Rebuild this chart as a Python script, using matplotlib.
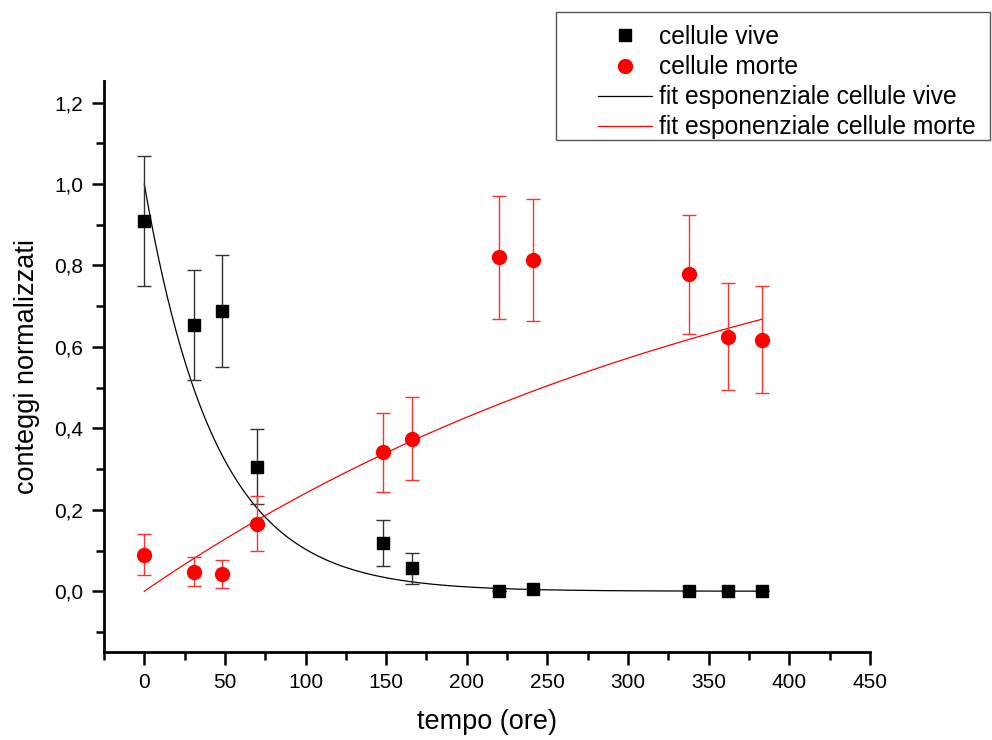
import numpy as np
import matplotlib.pyplot as plt
from matplotlib.ticker import MultipleLocator, FuncFormatter
from matplotlib.lines import Line2D
from matplotlib.patches import Rectangle

plt.rcParams['font.family'] = ['Liberation Sans', 'DejaVu Sans']

# tempi di misura (ore)
t_vive = [0, 31, 48, 70, 148, 166, 220, 241, 338, 362, 383]
vive = [0.910, 0.653, 0.688, 0.306, 0.119, 0.056, 0.000, 0.006, 0.000, 0.000, 0.000]
err_vive = [0.160, 0.135, 0.138, 0.092, 0.057, 0.038, 0.0, 0.0, 0.0, 0.0, 0.0]

t_morte = [0, 31, 48, 70, 148, 166, 220, 241, 338, 362, 383]
morte = [0.090, 0.048, 0.042, 0.166, 0.341, 0.375, 0.820, 0.813, 0.778, 0.625, 0.618]
err_morte = [0.050, 0.036, 0.034, 0.068, 0.097, 0.103, 0.151, 0.150, 0.147, 0.131, 0.131]

# parametri dei fit esponenziali
A_vive, tau_vive = 1.0, 44.0
A_morte, tau_morte = 1.076, 395.0
t_fit = np.linspace(0, 383, 400)

labels = ['cellule vive', 'cellule morte',
          'fit esponenziale cellule vive', 'fit esponenziale cellule morte']

fig = plt.figure(figsize=(9.92, 7.40), dpi=100)
ax = fig.add_axes([0.1048, 0.1185, 0.7722, 0.772])

ax.errorbar(t_vive, vive, yerr=err_vive, fmt='s', color='black', ms=8.5,
            ecolor='#333333', elinewidth=1, capsize=5, capthick=1, zorder=3)
ax.errorbar(t_morte, morte, yerr=err_morte, fmt='o', color='red', ms=10,
            ecolor='#ff3030', elinewidth=1, capsize=5, capthick=1, zorder=3)
ax.plot(t_fit, A_vive * np.exp(-t_fit / tau_vive), color='black', lw=0.9)
ax.plot(t_fit, A_morte * (1 - np.exp(-t_fit / tau_morte)), color='red', lw=0.9)

ax.set_xlim(-25, 450)
ax.set_ylim(-0.15, 1.253)
ax.xaxis.set_major_locator(MultipleLocator(50))
ax.xaxis.set_minor_locator(MultipleLocator(25))
ax.yaxis.set_major_locator(MultipleLocator(0.2))
ax.yaxis.set_minor_locator(MultipleLocator(0.1))
ax.yaxis.set_major_formatter(FuncFormatter(lambda v, p: ('%.1f' % v).replace('.', ',')))

ax.spines['top'].set_visible(False)
ax.spines['right'].set_visible(False)
ax.spines['left'].set_linewidth(2)
ax.spines['bottom'].set_linewidth(2)
ax.tick_params(which='major', direction='out', length=9, width=1.8, labelsize=15, pad=6)
ax.tick_params(which='minor', direction='out', length=6, width=1.8)

ax.set_xlabel('tempo (ore)', fontsize=19.5, labelpad=12)
ax.set_ylabel('conteggi normalizzati', fontsize=19.5, labelpad=10)

# legenda con riquadro esterno
handles = [Line2D([], [], ls='none', marker='s', color='black', ms=8.5),
           Line2D([], [], ls='none', marker='o', color='red', ms=10),
           Line2D([], [], color='black', lw=0.9),
           Line2D([], [], color='red', lw=0.9)]
fig.legend(handles, labels, loc='upper left',
           bbox_to_anchor=(598 / 992, 1 - 25 / 740),
           bbox_transform=fig.transFigure, fontsize=17.7, frameon=False,
           handlelength=2.2, handletextpad=0.3, labelspacing=0.25,
           borderpad=0, borderaxespad=0)
fig.patches.append(Rectangle((556 / 992, 1 - 140 / 740), 434 / 992, 128 / 740,
                             transform=fig.transFigure, fill=False,
                             edgecolor='#555555', lw=1))

fig.savefig('out.png', dpi=100)
